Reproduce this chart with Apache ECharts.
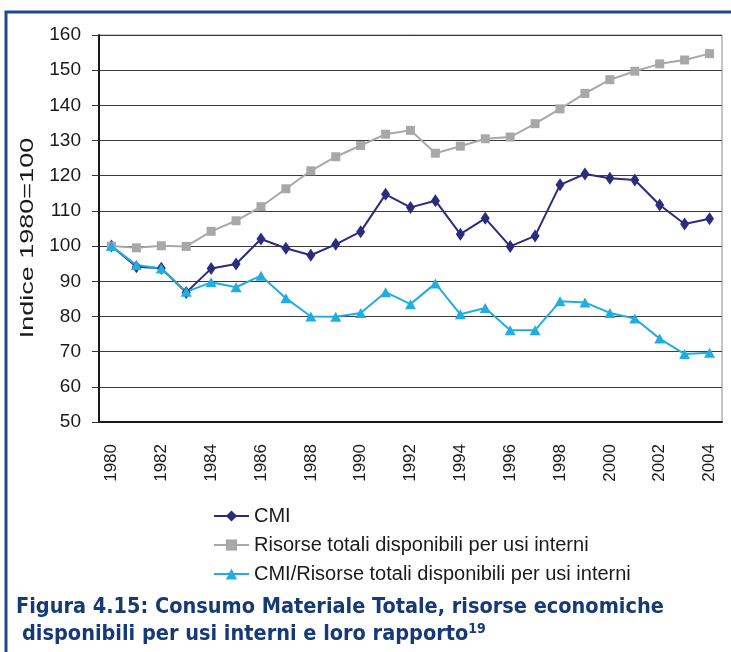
<!DOCTYPE html>
<html>
<head>
<meta charset="utf-8">
<style>
  html, body { margin: 0; padding: 0; background: #fff; }
  #chart { width: 731px; height: 652px; }
</style>
<script src="https://cdn.jsdelivr.net/npm/echarts@6/dist/echarts.min.js"></script>
</head>
<body>
<div id="chart"></div>
<script>
// ---------------------- data ----------------------
var years = ['1980', '1981', '1982', '1983', '1984', '1985', '1986', '1987', '1988',
  '1989', '1990', '1991', '1992', '1993', '1994', '1995', '1996', '1997', '1998',
  '1999', '2000', '2001', '2002', '2003', '2004'];

var cmi = [100, 94.1, 93.7, 86.8, 93.6, 94.9, 102.0, 99.4, 97.4, 100.5, 104.1,
  114.7, 111.0, 112.9, 103.4, 107.9, 99.9, 102.9, 117.4, 120.5, 119.3, 118.8,
  111.7, 106.3, 107.8];

var risorse = [100, 99.5, 100.1, 99.9, 104.2, 107.2, 111.2, 116.3, 121.4, 125.4,
  128.6, 131.8, 132.9, 126.4, 128.4, 130.5, 131.0, 134.8, 139.0, 143.4, 147.3,
  149.7, 151.8, 152.9, 154.7];

var rapporto = [100, 94.6, 93.6, 87.0, 89.7, 88.3, 91.6, 85.2, 80.0, 79.9, 81.0,
  86.9, 83.5, 89.4, 80.6, 82.4, 76.1, 76.1, 84.3, 84.0, 81.0, 79.4, 73.7, 69.3, 69.7];

var seriesNames = ['CMI', 'Risorse totali disponibili per usi interni',
  'CMI/Risorse totali disponibili per usi interni'];

var yTitle = 'Indice 1980=100';
var captionLine1 = 'Figura 4.15: Consumo Materiale Totale, risorse economiche';
var captionLine2 = 'disponibili per usi interni e loro rapporto';
var captionNote = '19';

// ---------------------- chart ----------------------
var myChart = echarts.init(document.getElementById('chart'));
var textFont = '"Liberation Sans", Arial, sans-serif';
var capFont = '"DejaVu Sans Condensed", "Liberation Sans", sans-serif';
var capColor = '#163a78';
var ink = '#1a1a1a';

var option = {
  animation: false,
  backgroundColor: '#fff',
  textStyle: { fontFamily: textFont },
  grid: {
    left: 99, top: 35, width: 623, height: 387,
    show: true, borderColor: '#8c8c8c', borderWidth: 1
  },
  legend: {
    orient: 'vertical',
    left: 208, top: 501,
    itemWidth: 35, itemHeight: 14, itemGap: 9,
    textStyle: { fontSize: 20, color: ink, fontFamily: textFont },
    data: seriesNames
  },
  xAxis: {
    type: 'category',
    data: years,
    boundaryGap: true,
    axisLine: { lineStyle: { color: ink, width: 2 } },
    axisTick: { interval: 0, length: 10, lineStyle: { color: '#333' } },
    axisLabel: { interval: 1, rotate: 90, fontSize: 17, color: ink, margin: 22 },
    splitLine: { show: false }
  },
  yAxis: {
    type: 'value',
    min: 50, max: 160, interval: 10,
    axisLine: { show: true, lineStyle: { color: ink, width: 2 } },
    axisTick: { show: true, length: 7, lineStyle: { color: '#333' } },
    axisLabel: { fontSize: 19, color: ink, margin: 18 },
    splitLine: { lineStyle: { color: '#3a3a3a', width: 1.2 } }
  },
  series: [
    {
      name: seriesNames[0], type: 'line', data: cmi,
      symbol: 'diamond', symbolSize: [9, 13],
      itemStyle: { color: '#2b2d7c' },
      lineStyle: { color: '#2b2d7c', width: 2 }
    },
    {
      name: seriesNames[1], type: 'line', data: risorse,
      symbol: 'rect', symbolSize: 9,
      itemStyle: { color: '#a8a8a8' },
      lineStyle: { color: '#a8a8a8', width: 2 }
    },
    {
      name: seriesNames[2], type: 'line', data: rapporto,
      symbol: 'triangle', symbolSize: [11, 10],
      itemStyle: { color: '#22ade0' },
      lineStyle: { color: '#22ade0', width: 2 }
    }
  ],
  graphic: [
    {
      type: 'polyline', silent: true,
      shape: { points: [[6, 652], [6, 12], [731, 12]] },
      style: { stroke: '#1f4b8e', lineWidth: 3, fill: null }
    },
    // y axis title, stretched along its reading direction like the original
    {
      type: 'text', silent: true,
      x: 28, y: 238, rotation: Math.PI / 2, scaleX: 1.42,
      style: {
        text: yTitle, font: '19px ' + textFont, fill: ink,
        align: 'center', verticalAlign: 'middle'
      }
    },
    {
      type: 'text', left: 16, top: 596,
      style: {
        text: captionLine1,
        font: 'bold 21.5px ' + capFont, fill: capColor
      }
    },
    {
      type: 'text', left: 22, top: 622,
      style: {
        text: captionLine2 + '{sup|' + captionNote + '}',
        font: 'bold 21.5px ' + capFont, fill: capColor,
        rich: {
          sup: { fontSize: 14, fontWeight: 'bold', fontFamily: capFont,
            fill: capColor, verticalAlign: 'top', padding: [0, 0, 10, 0] }
        }
      }
    }
  ]
};

myChart.setOption(option);
</script>
</body>
</html>
